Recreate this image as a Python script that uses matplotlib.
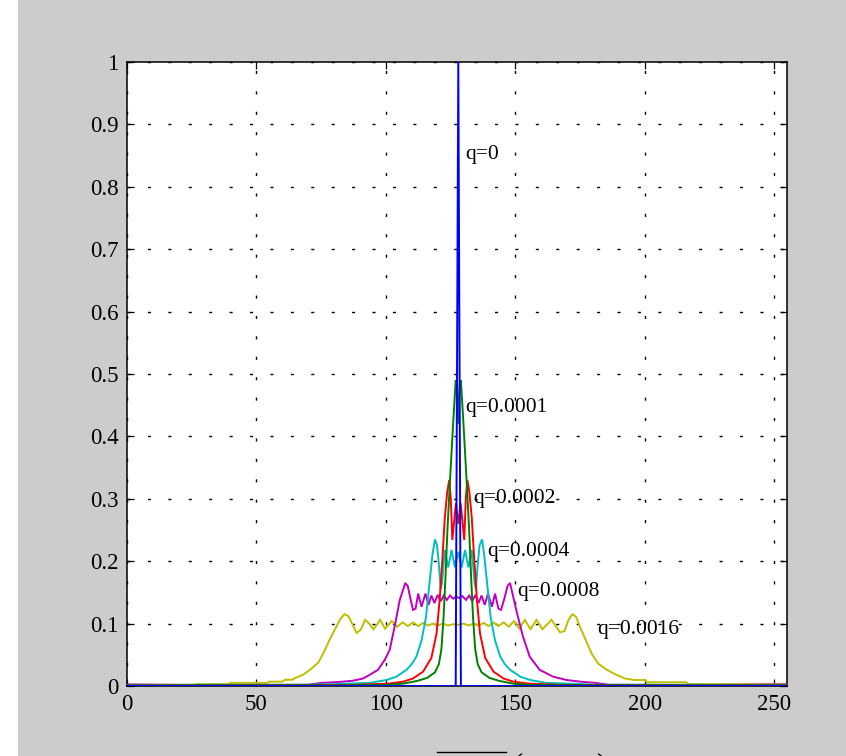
import matplotlib
matplotlib.use("Agg")
import matplotlib.pyplot as plt
from matplotlib.lines import Line2D
from matplotlib.patches import Rectangle

# ---------------- data ----------------
blue_x = [0, 127, 128, 129, 255]
blue_y = [0, 0, 1.0, 0, 0]

green_x = [0, 88, 100, 107, 112, 116, 119, 120.5, 121.5, 122.3, 123, 123.8, 124.8, 126, 127,
           127.5, 128, 128.5, 129, 130, 131.2, 132.2, 133, 133.7, 134.5, 135.5, 137, 140, 144,
           149, 155, 168, 255]
green_y = [0.0008, 0.0012, 0.0018, 0.004, 0.008, 0.013, 0.022, 0.035, 0.06, 0.11, 0.17, 0.25,
           0.33, 0.42, 0.49, 0.48, 0.42, 0.48, 0.49, 0.42, 0.33, 0.25, 0.17, 0.11, 0.06, 0.035,
           0.022, 0.013, 0.008, 0.004, 0.0018, 0.0012, 0.0008]

red_x = [0, 68, 88, 101.5, 106.7, 110.5, 114.4, 117.6, 119.6, 120.8, 121.8, 122.8, 123.7,
         124.5, 125.1, 125.7, 126.3, 127.1, 128, 128.9, 129.7, 130.3, 130.9, 131.5, 132.3,
         133.2, 134.2, 135.2, 136.4, 138.4, 141.6, 145.5, 149.3, 154.5, 168, 181, 255]
red_y = [0.0008, 0.0015, 0.0018, 0.004, 0.007, 0.012, 0.023, 0.045, 0.084, 0.138, 0.2, 0.27,
         0.31, 0.33, 0.3, 0.234, 0.26, 0.293, 0.26, 0.293, 0.26, 0.234, 0.3, 0.33, 0.31, 0.27,
         0.2, 0.138, 0.084, 0.045, 0.023, 0.012, 0.007, 0.004, 0.0018, 0.0015, 0.0008]

cyan_x = [0, 27, 68, 80, 93.8, 100.2, 104.1, 108, 110, 111.8, 113.8, 115.5, 117, 118, 119,
          119.8, 120.6, 121.2, 121.7, 122.8, 124.1, 125.4, 126.7, 128, 129.3, 130.6, 131.9,
          133.2, 134.3, 134.8, 135.4, 136.2, 137.2, 138, 139, 140.5, 142.2, 144.2, 146, 148,
          151.9, 155.8, 162, 176, 181, 223, 255]
cyan_y = [0.0012, 0.002, 0.002, 0.003, 0.005, 0.0096, 0.015, 0.026, 0.035, 0.047, 0.073, 0.11,
          0.17, 0.21, 0.235, 0.225, 0.19, 0.155, 0.165, 0.218, 0.19, 0.218, 0.19, 0.215, 0.19,
          0.218, 0.19, 0.218, 0.165, 0.155, 0.19, 0.225, 0.235, 0.21, 0.17, 0.11, 0.073, 0.047,
          0.035, 0.026, 0.015, 0.0096, 0.005, 0.003, 0.002, 0.002, 0.0012]

mag_x = [0, 27, 70, 75, 80, 83.5, 87.3, 91.2, 93.8, 97, 99.6, 101.5, 103.4, 105.4, 107.5,
         108.5, 109.5, 110.5, 111.5, 112.5, 113.8, 115.3, 116.5, 117.6, 118.8, 120, 121.2,
         122.4, 123.6, 124.8, 126, 127.2, 128.4, 129.6, 131, 132.2, 133.4, 134.6, 135.8, 137,
         138.2, 139.5, 141, 142.2, 143.5, 144.5, 145.8, 147, 148, 150.5, 153, 155.6, 159.4,
         164.6, 169.8, 175, 181, 186, 223, 255]
mag_y = [0.0025, 0.0015, 0.002, 0.005, 0.006, 0.007, 0.0085, 0.012, 0.018, 0.026, 0.042,
         0.058, 0.095, 0.138, 0.165, 0.16, 0.14, 0.122, 0.124, 0.148, 0.127, 0.148, 0.13, 0.145,
         0.133, 0.146, 0.136, 0.145, 0.138, 0.145, 0.14, 0.143, 0.141, 0.144, 0.138, 0.145,
         0.136, 0.146, 0.133, 0.145, 0.13, 0.148, 0.127, 0.148, 0.124, 0.122, 0.14, 0.16, 0.165,
         0.12, 0.079, 0.047, 0.026, 0.015, 0.0096, 0.007, 0.005, 0.002, 0.0015, 0.0025]

yel_x = [0, 26, 27, 39, 40, 54, 55, 60, 61, 64, 65, 68, 71, 74, 76.5, 78.5, 80.5, 82.5, 84,
         85.5, 87, 88.7, 90.3, 92, 93.6, 95.2, 96.5, 97.8, 99.7, 102.3, 104.5, 106.5, 108.5,
         110.5, 112.5, 114.4, 116.3, 118.2, 120.1, 122, 124, 126, 128, 130, 132, 134, 135.9,
         137.8, 139.7, 141.6, 143.5, 145.5, 147.5, 149.5, 151.6, 153.7, 155.9, 158.2, 160.5,
         164, 167.3, 169, 170.5, 172, 173.5, 175, 177, 179.5, 182, 185, 188.5, 192.5, 196, 200,
         201, 216, 217, 255]
yel_y = [0.002, 0.002, 0.003, 0.003, 0.005, 0.005, 0.007, 0.007, 0.01, 0.01, 0.013, 0.018,
         0.027, 0.038, 0.058, 0.076, 0.092, 0.108, 0.115, 0.112, 0.1, 0.085, 0.09, 0.106, 0.1,
         0.091, 0.098, 0.106, 0.092, 0.104, 0.095, 0.102, 0.096, 0.102, 0.096, 0.101, 0.097,
         0.1, 0.097, 0.1, 0.097, 0.099, 0.098, 0.1, 0.097, 0.1, 0.097, 0.101, 0.096, 0.102,
         0.096, 0.102, 0.095, 0.104, 0.092, 0.106, 0.091, 0.106, 0.091, 0.106, 0.086, 0.088,
         0.105, 0.115, 0.111, 0.095, 0.076, 0.052, 0.036, 0.027, 0.019, 0.012, 0.0096, 0.0096,
         0.006, 0.006, 0.003, 0.003]

labels = ["q=0", "q=0.0001", "q=0.0002", "q=0.0004", "q=0.0008", "q=0.0016"]
label_x = [130.5, 130.5, 133.6, 139.0, 150.6, 181.5]
label_y = [0.851, 0.447, 0.301, 0.216, 0.152, 0.090]

xticks = [0, 50, 100, 150, 200, 250]
yticks = [0, 0.1, 0.2, 0.3, 0.4, 0.5, 0.6, 0.7, 0.8, 0.9, 1]
ytick_labels = ["0", "0.1", "0.2", "0.3", "0.4", "0.5", "0.6", "0.7", "0.8", "0.9", "1"]

# ---------------- figure ----------------
W, H = 846, 756
fig = plt.figure(figsize=(W / 100, H / 100), dpi=100, facecolor="white")
fig.patches.append(Rectangle((18 / W, 0), 1, 1, transform=fig.transFigure,
                             facecolor="#cccccc", edgecolor="none", zorder=-10))

ax = fig.add_axes([127 / W, (H - 686) / H, 660 / W, 624 / H])
ax.set_facecolor("white")

series = [
    (yel_x, yel_y, (0.75, 0.75, 0.0), 2),
    (mag_x, mag_y, (0.75, 0.0, 0.75), 3),
    (cyan_x, cyan_y, (0.0, 0.75, 0.75), 4),
    (red_x, red_y, (1.0, 0.0, 0.0), 5),
    (green_x, green_y, (0.0, 0.5, 0.0), 6),
    (blue_x, blue_y, (0.0, 0.0, 1.0), 7),
]
for xs, ys, c, z in series:
    ax.plot(xs, ys, color=c, lw=1.4, zorder=z, solid_joinstyle="miter")

serif = ["Liberation Serif", "DejaVu Serif"]
for t, x, y in zip(labels, label_x, label_y):
    ax.text(x, y, t, fontsize=15.5, family=serif, ha="left", va="center", zorder=10)

ax.set_xlim(0, 255)
ax.set_ylim(0, 1)
ax.set_xticks(xticks)
ax.set_xticklabels([str(v) for v in xticks])
ax.set_yticks(yticks)
ax.set_yticklabels(ytick_labels)
for lab in ax.get_xticklabels() + ax.get_yticklabels():
    lab.set_fontfamily(serif)
    lab.set_fontsize(16.5)
ax.tick_params(direction="in", length=5, width=0.9, top=True, right=True, pad=6,
               colors="black")
ax.grid(True, color="black", linewidth=1.0, linestyle=(0, (2.2, 12.5)))
ax.set_axisbelow(True)
for s in ax.spines.values():
    s.set_linewidth(1.1)
    s.set_color("black")

# clipped x-label remnants at the very bottom
fig.add_artist(Line2D([437 / W, 506 / W], [(H - 751.5) / H, (H - 751.5) / H],
                      transform=fig.transFigure, color="black", lw=1.0))
fig.text(513 / W, (H - 752) / H, "(", fontsize=22, family=serif, ha="left", va="top")
fig.text(596 / W, (H - 752) / H, ")", fontsize=22, family=serif, ha="left", va="top")

fig.savefig("out.png", dpi=100, facecolor=fig.get_facecolor())
